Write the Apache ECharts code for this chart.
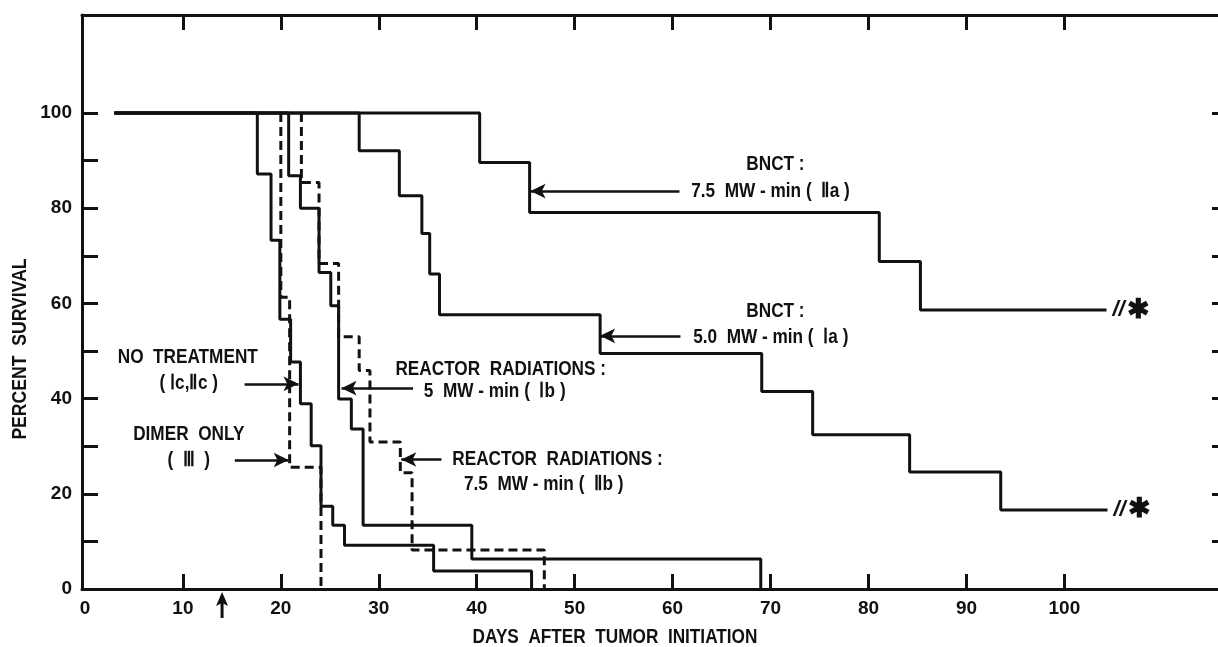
<!DOCTYPE html>
<html>
<head>
<meta charset="utf-8">
<script src="https://cdn.jsdelivr.net/npm/echarts@6/dist/echarts.min.js"></script>
<style>
html, body { margin: 0; padding: 0; background: #fff; }
#main { width: 1218px; height: 647px; }
</style>
</head>
<body>
<div id="main"></div>
<script>
// axis ticks / labels
var xTicks = [10, 20, 30, 40, 50, 60, 70, 80, 90, 100];
var xLabels = [0, 10, 20, 30, 40, 50, 60, 70, 80, 90, 100];
var yTicks = [10, 20, 30, 40, 50, 60, 70, 80, 90, 100];
var yLabels = [0, 20, 40, 60, 80, 100];
var rightTicks = [10, 20, 30, 40, 50, 60, 70, 80, 100];

// survival curves: day of each step, percent surviving from that day on
var ntDays = [3, 17.6, 19.0, 19.9, 21.0, 22.0, 23.1, 24.1, 25.3, 26.5, 35.6, 45.6];
var ntSurv = [100, 87.2, 73.3, 56.7, 47.7, 38.9, 30.1, 17.4, 13.4, 9.2, 3.8, 0];

var dimerDays = [20.0, 20.0, 20.9, 24.1];
var dimerSurv = [100, 61.3, 25.6, 0];

var ibDays = [3, 20.8, 22.0, 23.9, 25.1, 25.9, 27.2, 28.4, 39.5, 69.0];
var ibSurv = [100, 86.8, 80.0, 66.5, 59.5, 39.9, 33.6, 13.4, 6.3, 0];

var iibDays = [22.1, 22.1, 23.9, 25.9, 28.0, 29.1, 32.2, 33.4, 46.9];
var iibSurv = [100, 85.4, 68.4, 53.0, 45.9, 30.9, 24.4, 8.2, 0];

var iaDays = [3, 28.0, 32.1, 34.4, 35.2, 36.2, 52.6, 69.1, 74.3, 84.2, 93.5, 104.4];
var iaSurv = [100, 92.1, 82.6, 74.7, 66.2, 57.6, 49.5, 41.5, 32.4, 24.6, 16.6, 16.6];

var iiaDays = [3, 40.3, 45.4, 81.1, 85.3, 104.3];
var iiaSurv = [100, 89.6, 79.1, 68.8, 58.6, 58.6];

// annotation arrows: [from day, to day, percent]
var arrows = [
    [60.7, 45.5, 83.6],
    [60.8, 52.6, 53.2],
    [33.5, 26.2, 42.2],
    [36.4, 32.3, 27.2],
    [16.3, 21.8, 43.1],
    [15.3, 20.8, 27.1]
];
// annotation texts: [text, day, percent, align]
var notes = [
    ['BNCT :', 70.5, 89.1, 'center'],
    ['7.5  MW - min (  Ⅱa )', 61.9, 83.5, 'left'],
    ['BNCT :', 70.5, 58.4, 'center'],
    ['5.0  MW - min (  Ⅰa )', 62.1, 52.9, 'left'],
    ['REACTOR  RADIATIONS :', 31.7, 46.2, 'left'],
    ['5  MW - min (  Ⅰb )', 34.6, 41.4, 'left'],
    ['REACTOR  RADIATIONS :', 37.5, 27.2, 'left'],
    ['7.5  MW - min (  Ⅱb )', 38.7, 22.0, 'left'],
    ['NO  TREATMENT', 10.5, 48.6, 'center'],
    ['( Ⅰc,Ⅱc )', 10.6, 43.2, 'center'],
    ['DIMER  ONLY', 10.6, 32.5, 'center'],
    ['(  Ⅲ  )', 10.6, 27.1, 'center']
];
var treatDay = 14;

var FONT = '"Liberation Sans", Arial, sans-serif';
var INK = '#111';

function pairs(d, s) {
    return d.map(function (v, i) { return [v, s[i]]; });
}

var chart = echarts.init(document.getElementById('main'));

var axisLine = { show: true, onZero: false, lineStyle: { color: INK, width: 3 } };

function curve(name, d, s, dashed, end) {
    var o = {
        name: name,
        type: 'line',
        step: 'end',
        showSymbol: false,
        symbol: 'none',
        data: pairs(d, s),
        lineStyle: { color: INK, width: 3, type: dashed ? [9, 5] : 'solid' },
        silent: true
    };
    if (end) {
        o.endLabel = {
            show: true, formatter: '{a|//}{b|✱}', distance: 6,
            rich: {
                a: { color: INK, fontSize: 22, fontWeight: 'bold', fontStyle: 'italic', fontFamily: FONT },
                b: { color: INK, fontSize: 27, fontWeight: 'bold', fontFamily: FONT, padding: [0, 0, 0, 2] }
            }
        };
    }
    return o;
}

var arrowSeries = {
    type: 'line',
    data: [],
    silent: true,
    markLine: {
        silent: true,
        animation: false,
        symbol: ['none', 'arrow'],
        symbolSize: [11, 15],
        label: { show: false },
        lineStyle: { color: INK, width: 2.5, type: 'solid' },
        data: arrows.map(function (a) {
            return [{ coord: [a[0], a[2]] }, { coord: [a[1], a[2]] }];
        })
    }
};

option = {
    animation: false,
    backgroundColor: '#fff',
    grid: { left: 82, right: -8, top: 15, bottom: 58, outerBoundsMode: 'none' },
    xAxis: [{
        type: 'value', position: 'bottom', min: -0.3, max: 116.5,
        axisLine: axisLine,
        axisTick: { show: true, inside: true, length: 15, customValues: xTicks,
            lineStyle: { color: INK, width: 3 } },
        axisLabel: { customValues: xLabels, margin: 10, color: INK,
            fontSize: 19, fontWeight: 'bold', fontFamily: FONT },
        splitLine: { show: false }
    }, {
        type: 'value', position: 'top', min: -0.3, max: 116.5,
        axisLine: axisLine,
        axisTick: { show: true, inside: true, length: 15, customValues: xTicks,
            lineStyle: { color: INK, width: 3 } },
        axisLabel: { show: false },
        splitLine: { show: false }
    }],
    yAxis: [{
        type: 'value', position: 'left', min: 0, max: 120.6,
        axisLine: axisLine,
        axisTick: { show: true, inside: true, length: 16, customValues: yTicks,
            lineStyle: { color: INK, width: 3 } },
        axisLabel: { customValues: yLabels, margin: 10, color: INK,
            fontSize: 19, fontWeight: 'bold', fontFamily: FONT },
        splitLine: { show: false }
    }, {
        type: 'value', position: 'right', min: 0, max: 120.6,
        axisLine: { show: false, onZero: false },
        axisTick: { show: true, inside: true, length: 14, customValues: rightTicks,
            lineStyle: { color: INK, width: 3 } },
        axisLabel: { show: false },
        splitLine: { show: false }
    }],
    series: [
        curve('No treatment', ntDays, ntSurv, false),
        curve('Dimer only', dimerDays, dimerSurv, true),
        curve('Reactor 5 MW-min', ibDays, ibSurv, false),
        curve('Reactor 7.5 MW-min', iibDays, iibSurv, true),
        curve('BNCT 5.0 MW-min', iaDays, iaSurv, false, true),
        curve('BNCT 7.5 MW-min', iiaDays, iiaSurv, false, true),
        arrowSeries
    ]
};
chart.setOption(option);

// texts and the treatment arrow, placed through the axes
var g = [];
notes.forEach(function (n) {
    var p = chart.convertToPixel({ gridIndex: 0 }, [n[1], n[2]]);
    g.push({
        type: 'text', x: p[0], y: p[1], scaleX: 0.86, silent: true,
        style: { text: n[0], fill: INK, fontSize: 20, fontWeight: 'bold',
            fontFamily: FONT, align: n[3], verticalAlign: 'middle' }
    });
});
var base = chart.convertToPixel({ gridIndex: 0 }, [treatDay, 0]);
g.push({
    type: 'line', silent: true,
    shape: { x1: base[0], y1: base[1] + 29, x2: base[0], y2: base[1] + 12 },
    style: { stroke: INK, lineWidth: 3 }
});
g.push({
    type: 'polygon', silent: true,
    shape: { points: [[base[0], base[1] + 3], [base[0] - 6, base[1] + 17], [base[0], base[1] + 14], [base[0] + 6, base[1] + 17]] },
    style: { fill: INK }
});
g.push({
    type: 'text', x: 20, y: 349, rotation: Math.PI / 2, scaleX: 0.88, silent: true,
    style: { text: 'PERCENT  SURVIVAL', fill: INK, fontSize: 20, fontWeight: 'bold',
        fontFamily: FONT, align: 'center', verticalAlign: 'middle' }
});
g.push({
    type: 'text', x: 615, y: 637, scaleX: 0.86, silent: true,
    style: { text: 'DAYS  AFTER  TUMOR  INITIATION', fill: INK, fontSize: 20, fontWeight: 'bold',
        fontFamily: FONT, align: 'center', verticalAlign: 'middle' }
});
chart.setOption({ graphic: g });
</script>
</body>
</html>
